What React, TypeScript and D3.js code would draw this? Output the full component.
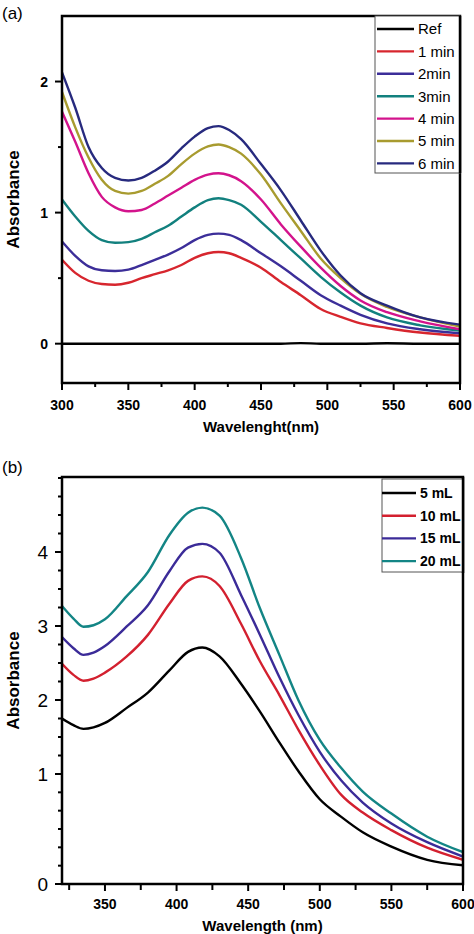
import React from "react";
import * as d3 from "d3";

// ---------- Panel (a) data ----------
const wavelengthsA = [300, 310, 320, 330, 340, 350, 360, 370, 380, 390, 400, 410, 418, 426, 435, 450, 465, 480, 495, 510, 525, 545, 570, 600];
const seriesNamesA = ["Ref", "1 min", "2min", "3min", "4 min", "5 min", "6 min"];
const colorsA = ["#000000", "#d7262e", "#3c2e99", "#12807e", "#d3138c", "#a89b2f", "#272a7e"];
const refA = [0, 0, 0, 0, 0, 0, 0, 0, 0, 0, 0, 0, 0, 0, 0, 0, 0, 0.004, 0, 0, 0, 0.003, 0, 0];
const min1A = [0.64, 0.54, 0.48, 0.455, 0.45, 0.465, 0.5, 0.53, 0.56, 0.6, 0.655, 0.69, 0.7, 0.69, 0.655, 0.58, 0.47, 0.37, 0.265, 0.205, 0.155, 0.12, 0.085, 0.06];
const min2A = [0.78, 0.67, 0.59, 0.56, 0.555, 0.565, 0.6, 0.64, 0.68, 0.73, 0.79, 0.83, 0.84, 0.83, 0.79, 0.69, 0.59, 0.48, 0.37, 0.29, 0.22, 0.155, 0.11, 0.08];
const min3A = [1.1, 0.97, 0.86, 0.79, 0.77, 0.775, 0.8, 0.85, 0.9, 0.97, 1.04, 1.095, 1.11, 1.095, 1.06, 0.93, 0.79, 0.65, 0.51, 0.39, 0.29, 0.2, 0.14, 0.1];
const min4A = [1.77, 1.54, 1.3, 1.12, 1.04, 1.01, 1.02, 1.07, 1.13, 1.19, 1.25, 1.29, 1.3, 1.285, 1.24, 1.1, 0.91, 0.74, 0.58, 0.44, 0.33, 0.24, 0.17, 0.11];
const min5A = [1.92, 1.65, 1.42, 1.25, 1.165, 1.145, 1.165, 1.22, 1.28, 1.37, 1.45, 1.505, 1.52, 1.5, 1.45, 1.29, 1.07, 0.86, 0.65, 0.5, 0.38, 0.28, 0.2, 0.13];
const min6A = [2.07, 1.8, 1.5, 1.34, 1.265, 1.245, 1.265, 1.32, 1.39, 1.49, 1.58, 1.645, 1.66, 1.63, 1.56, 1.37, 1.17, 0.94, 0.71, 0.52, 0.385, 0.29, 0.2, 0.145];
const valuesA = [refA, min1A, min2A, min3A, min4A, min5A, min6A];
const xTicksA = [300, 350, 400, 450, 500, 550, 600];
const yTicksA = [0, 1, 2];

// ---------- Panel (b) data ----------
const wavelengthsB = [320, 328, 335, 342, 350, 365, 380, 395, 408, 418, 430, 445, 458, 472, 485, 500, 515, 530, 550, 575, 600];
const seriesNamesB = ["5 mL", "10 mL", "15 mL", "20 mL"];
const colorsB = ["#000000", "#d3202f", "#3b2b98", "#138585"];
const ml5B = [1.75, 1.66, 1.61, 1.63, 1.69, 1.89, 2.1, 2.4, 2.65, 2.71, 2.59, 2.22, 1.85, 1.42, 1.04, 0.77, 0.61, 0.47, 0.34, 0.22, 0.17];
const ml10B = [2.49, 2.34, 2.26, 2.29, 2.37, 2.585, 2.88, 3.3, 3.61, 3.67, 3.54, 3.03, 2.53, 2.06, 1.6, 1.12, 0.81, 0.65, 0.49, 0.33, 0.22];
const ml15B = [2.85, 2.7, 2.61, 2.64, 2.73, 2.99, 3.28, 3.74, 4.06, 4.11, 3.99, 3.42, 2.89, 2.3, 1.8, 1.3, 0.94, 0.74, 0.55, 0.38, 0.25];
const ml20B = [3.27, 3.1, 2.99, 3.01, 3.09, 3.4, 3.73, 4.23, 4.53, 4.6, 4.49, 3.92, 3.25, 2.6, 2.0, 1.46, 1.08, 0.84, 0.64, 0.43, 0.29];
const valuesB = [ml5B, ml10B, ml15B, ml20B];
const xTicksB = [350, 400, 450, 500, 550, 600];
const yTicksB = [0, 1, 2, 3, 4];

const FONT = "'Liberation Sans', Arial, Helvetica, sans-serif";

export default function App() {
  // Panel (a) scales
  const xA = d3.scaleLinear().domain([300, 600]).range([62, 460]);
  const yA = d3.scaleLinear().domain([-0.3, 2.5]).range([383, 16]);
  const lineA = d3
    .line<[number, number]>()
    .x((d) => xA(d[0]))
    .y((d) => yA(d[1]))
    .curve(d3.curveMonotoneX);
  const xMinorA = d3.range(325, 600, 50);
  const yMinorA = [0.5, 1.5];

  // Panel (b) scales (axis labels are not evenly spaced in the original)
  const xB = d3.scaleLinear().domain([320, 600]).range([62, 463]);
  const yB = d3.scaleLinear().domain([0, 1, 5]).range([884, 774, 478]);
  const lineB = d3
    .line<[number, number]>()
    .x((d) => xB(d[0]))
    .y((d) => yB(d[1]))
    .curve(d3.curveMonotoneX);
  const xMinorB = d3.range(325, 600, 50);
  const yMinorB = [...d3.range(1, 6).map((i) => i / 6), ...d3.range(1.25, 5.01, 0.25)];

  const frameA = { l: 62, r: 460, t: 16, b: 383 };
  const frameB = { l: 62, r: 463, t: 477, b: 884 };

  return (
    <svg
      width={474}
      height={934}
      style={{ position: "absolute", left: 0, top: 0, display: "block", background: "#fff" }}
      fontFamily={FONT}
    >
      <defs>
        <clipPath id="clipA">
          <rect x={frameA.l} y={frameA.t} width={frameA.r - frameA.l} height={frameA.b - frameA.t} />
        </clipPath>
        <clipPath id="clipB">
          <rect x={frameB.l} y={frameB.t} width={frameB.r - frameB.l} height={frameB.b - frameB.t} />
        </clipPath>
      </defs>

      {/* ================= Panel (a) ================= */}
      <text x={2} y={19} fontSize={17}>(a)</text>
      <g clipPath="url(#clipA)">
        {valuesA.map((vals, i) => (
          <path
            key={seriesNamesA[i]}
            d={lineA(wavelengthsA.map((w, j) => [w, vals[j]] as [number, number])) || ""}
            fill="none"
            stroke={colorsA[i]}
            strokeWidth={2.4}
          />
        ))}
      </g>
      <rect
        x={frameA.l}
        y={frameA.t}
        width={frameA.r - frameA.l}
        height={frameA.b - frameA.t}
        fill="none"
        stroke="#000"
        strokeWidth={2.5}
      />
      {yTicksA.map((t) => (
        <g key={"ya" + t}>
          <line x1={frameA.l - 7} x2={frameA.l} y1={yA(t)} y2={yA(t)} stroke="#000" strokeWidth={2} />
          <text x={48} y={yA(t)} dy="0.36em" textAnchor="end" fontSize={14} fontWeight="bold">
            {t}
          </text>
        </g>
      ))}
      {yMinorA.map((t) => (
        <line key={"yam" + t} x1={frameA.l - 4} x2={frameA.l} y1={yA(t)} y2={yA(t)} stroke="#000" strokeWidth={2} />
      ))}
      {xTicksA.map((t) => (
        <g key={"xa" + t}>
          <line x1={xA(t)} x2={xA(t)} y1={frameA.b} y2={frameA.b + 7} stroke="#000" strokeWidth={2} />
          <text x={xA(t)} y={410} textAnchor="middle" fontSize={14} fontWeight="bold">
            {t}
          </text>
        </g>
      ))}
      {xMinorA.map((t) => (
        <line key={"xam" + t} x1={xA(t)} x2={xA(t)} y1={frameA.b} y2={frameA.b + 4} stroke="#000" strokeWidth={2} />
      ))}
      <text x={(frameA.l + frameA.r) / 2} y={432} textAnchor="middle" fontSize={15} fontWeight="bold">
        Wavelenght(nm)
      </text>
      <text
        transform={`translate(19,${(frameA.t + frameA.b) / 2}) rotate(-90)`}
        textAnchor="middle"
        fontSize={17}
        fontWeight="bold"
      >
        Absorbance
      </text>
      <rect x={375} y={frameA.t} width={frameA.r - 375} height={157} fill="#fff" stroke="#555" strokeWidth={1} />
      <rect x={frameA.r - 1.25} y={frameA.t} width={2.5} height={157} fill="#000" />
      {seriesNamesA.map((name, i) => {
        const ly = 29 + i * 22.4;
        return (
          <g key={"lga" + name}>
            <line x1={377} x2={414} y1={ly} y2={ly} stroke={colorsA[i]} strokeWidth={2.4} />
            <text x={418} y={ly} dy="0.36em" fontSize={15}>
              {name}
            </text>
          </g>
        );
      })}

      {/* ================= Panel (b) ================= */}
      <text x={2} y={473} fontSize={17}>(b)</text>
      <g clipPath="url(#clipB)">
        {valuesB.map((vals, i) => (
          <path
            key={seriesNamesB[i]}
            d={lineB(wavelengthsB.map((w, j) => [w, vals[j]] as [number, number])) || ""}
            fill="none"
            stroke={colorsB[i]}
            strokeWidth={2.4}
          />
        ))}
      </g>
      <rect
        x={frameB.l}
        y={frameB.t}
        width={frameB.r - frameB.l}
        height={frameB.b - frameB.t}
        fill="none"
        stroke="#000"
        strokeWidth={2.5}
      />
      {yTicksB.map((t) => (
        <g key={"yb" + t}>
          <line x1={frameB.l - 7} x2={frameB.l} y1={yB(t)} y2={yB(t)} stroke="#000" strokeWidth={2} />
          <text x={48} y={yB(t)} dy="0.36em" textAnchor="end" fontSize={19}>
            {t}
          </text>
        </g>
      ))}
      {yMinorB.map((t, i) => (
        <line key={"ybm" + i} x1={frameB.l - 4} x2={frameB.l} y1={yB(t)} y2={yB(t)} stroke="#000" strokeWidth={2} />
      ))}
      {xTicksB.map((t) => (
        <g key={"xb" + t}>
          <line x1={xB(t)} x2={xB(t)} y1={frameB.b} y2={frameB.b + 7} stroke="#000" strokeWidth={2} />
          <text x={xB(t)} y={909} textAnchor="middle" fontSize={14} fontWeight="bold">
            {t}
          </text>
        </g>
      ))}
      {xMinorB.map((t) => (
        <line key={"xbm" + t} x1={xB(t)} x2={xB(t)} y1={frameB.b} y2={frameB.b + 6} stroke="#000" strokeWidth={2} />
      ))}
      <text x={(frameB.l + frameB.r) / 2} y={931} textAnchor="middle" fontSize={15} fontWeight="bold">
        Wavelength (nm)
      </text>
      <text
        transform={`translate(19,${(frameB.t + frameB.b) / 2}) rotate(-90)`}
        textAnchor="middle"
        fontSize={17}
        fontWeight="bold"
      >
        Absorbance
      </text>
      <rect x={382} y={479} width={frameB.r - 382} height={93} fill="#fff" stroke="#555" strokeWidth={1} />
      <rect x={frameB.r - 1.25} y={frameB.t} width={2.5} height={96} fill="#000" />
      {seriesNamesB.map((name, i) => {
        const ly = 493 + i * 22.7;
        return (
          <g key={"lgb" + name}>
            <line x1={382} x2={416} y1={ly} y2={ly} stroke={colorsB[i]} strokeWidth={2.4} />
            <text x={420} y={ly} dy="0.36em" fontSize={14} fontWeight="bold">
              {name}
            </text>
          </g>
        );
      })}
    </svg>
  );
}
